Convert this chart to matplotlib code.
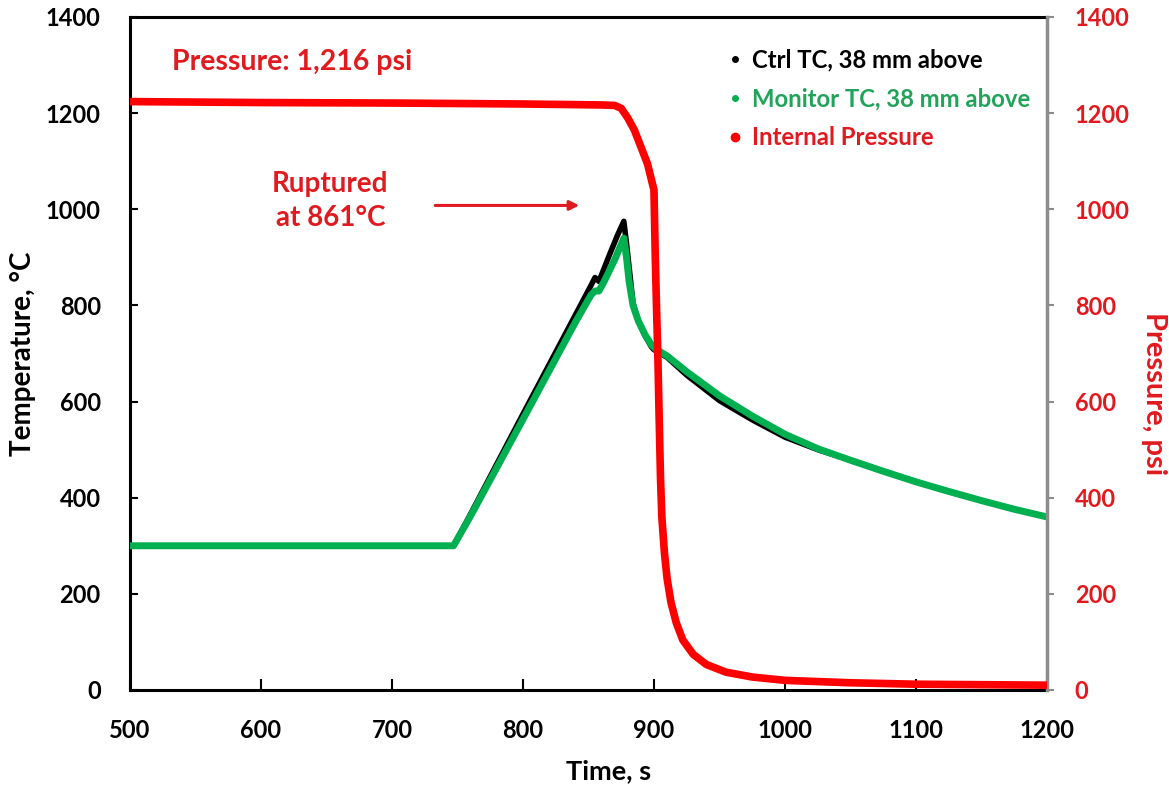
import matplotlib
matplotlib.use("Agg")
import matplotlib.pyplot as plt
from matplotlib.lines import Line2D

plt.rcParams['font.family'] = ['Lato', 'DejaVu Sans']
plt.rcParams['font.weight'] = 'bold'

# Control thermocouple, 38 mm above (time s, temperature °C)
ctrl_time = [500, 747, 760, 800, 840, 852, 855, 858, 866, 872, 877, 879, 881, 884,
             888, 893, 898, 900, 910, 925, 950, 975, 1000, 1025, 1050, 1075, 1100,
             1125, 1150, 1175, 1200]
ctrl_temp = [300, 300, 366, 574, 780, 842, 858, 850, 905, 945, 975, 930, 880, 805,
             768, 738, 714, 708, 692, 655, 602, 562, 526, 500, 478, 455, 433,
             413, 394, 376, 360]

# Monitor thermocouple, 38 mm above
mon_time = [500, 747, 760, 800, 840, 852, 855, 858, 862, 870, 877, 879, 881, 884,
            888, 893, 898, 902, 910, 925, 950, 975, 1000, 1025, 1050, 1075, 1100,
            1125, 1150, 1175, 1200]
mon_temp = [300, 300, 362, 563, 765, 822, 830, 830, 850, 895, 940, 900, 850, 800,
            768, 740, 718, 708, 695, 662, 612, 570, 532, 502, 478, 455, 433,
            413, 394, 376, 360]

# Internal pressure (time s, psi)
pres_time = [500, 600, 700, 800, 860, 870, 875, 880, 885, 890, 895, 898, 900,
             901, 902, 903, 904, 905, 906, 908, 910, 913, 917, 922, 930, 940,
             955, 975, 1000, 1050, 1100, 1150, 1200]
pres_psi = [1224, 1222, 1221, 1219, 1217, 1216, 1210, 1190, 1165, 1130, 1095, 1062, 1040,
            900, 790, 690, 560, 440, 360, 285, 232, 182, 140, 104, 74, 53,
            37, 27, 20, 15, 12, 11, 10]

x_ticks = [500, 600, 700, 800, 900, 1000, 1100, 1200]
y_ticks = [0, 200, 400, 600, 800, 1000, 1200, 1400]

RED = '#FF0000'
RED_TXT = '#E01A1F'
GREEN = '#00B050'
GREEN_TXT = '#22A35A'

fig = plt.figure(figsize=(11.69, 7.90), dpi=100)
ax = fig.add_axes([0.1112, 0.1266, 0.7844, 0.8519])

ax.plot(ctrl_time, ctrl_temp, color='black', lw=4.0, solid_joinstyle='round',
        solid_capstyle='round', zorder=2)
ax.plot(mon_time, mon_temp, color=GREEN, lw=5.0, solid_joinstyle='round',
        solid_capstyle='round', zorder=3)

ax.set_xlim(500, 1200)
ax.set_ylim(0, 1400)
ax.set_xticks(x_ticks)
ax.set_yticks(y_ticks)
ax.tick_params(axis='both', direction='in', labelsize=17, colors='black', width=1.5)
ax.tick_params(axis='y', length=6, pad=21)
ax.tick_params(axis='x', length=8, pad=21)
for side in ('left', 'top', 'bottom'):
    ax.spines[side].set_linewidth(2.2)
    ax.spines[side].set_color('black')

ax.set_xlabel('Time, s', fontsize=19.5, fontweight='bold')
ax.xaxis.set_label_coords(0.522, -0.103)
ax.set_ylabel('Temperature, °C', fontsize=20, fontweight='bold')
ax.yaxis.set_label_coords(-0.103, 0.5)

ax2 = ax.twinx()
ax2.plot(pres_time, pres_psi, color=RED, lw=5.5, solid_joinstyle='round',
         solid_capstyle='round', zorder=4)
ax2.set_ylim(0, 1400)
ax2.set_yticks(y_ticks)
ax2.tick_params(axis='y', direction='out', length=5, width=1.5, color='#8C8C8C',
                labelcolor=RED_TXT, labelsize=17, pad=15)
ax2.spines['right'].set_color('#8C8C8C')
ax2.spines['right'].set_linewidth(2.5)
for side in ('left', 'top', 'bottom'):
    ax2.spines[side].set_visible(False)
ax2.set_ylabel('Pressure, psi', fontsize=21, fontweight='bold', color=RED_TXT,
               rotation=-90, va='bottom')
ax2.yaxis.set_label_coords(1.103, 0.44)

# Annotations
ax.text(532, 1306, 'Pressure: 1,216 psi', color=RED_TXT, fontsize=20.5,
        fontweight='bold', ha='left', va='center')
ax.text(653, 1018, 'Ruptured\nat 861°C', color=RED_TXT, fontsize=20,
        fontweight='bold', ha='center', va='center', linespacing=1.38)
ax.annotate('', xy=(843, 1008), xytext=(733, 1008),
            arrowprops=dict(arrowstyle='-|>', color=RED_TXT, lw=2.2,
                            mutation_scale=14, shrinkA=0, shrinkB=0))

# Legend
handles = [
    Line2D([], [], ls='none', marker='o', ms=4, color='black'),
    Line2D([], [], ls='none', marker='o', ms=4, color=GREEN),
    Line2D([], [], ls='none', marker='o', ms=6, color=RED),
]
labels = ['Ctrl TC, 38 mm above', 'Monitor TC, 38 mm above', 'Internal Pressure']
leg = ax2.legend(handles, labels, loc='upper left', bbox_to_anchor=(0.643, 0.967),
                 frameon=False, fontsize=17.2, handlelength=0.5, handletextpad=0.45,
                 labelspacing=0.66, borderaxespad=0)
for txt, c in zip(leg.get_texts(), ['black', GREEN_TXT, RED_TXT]):
    txt.set_color(c)
    txt.set_fontweight('bold')

fig.savefig('out.png', dpi=100, facecolor='white')
